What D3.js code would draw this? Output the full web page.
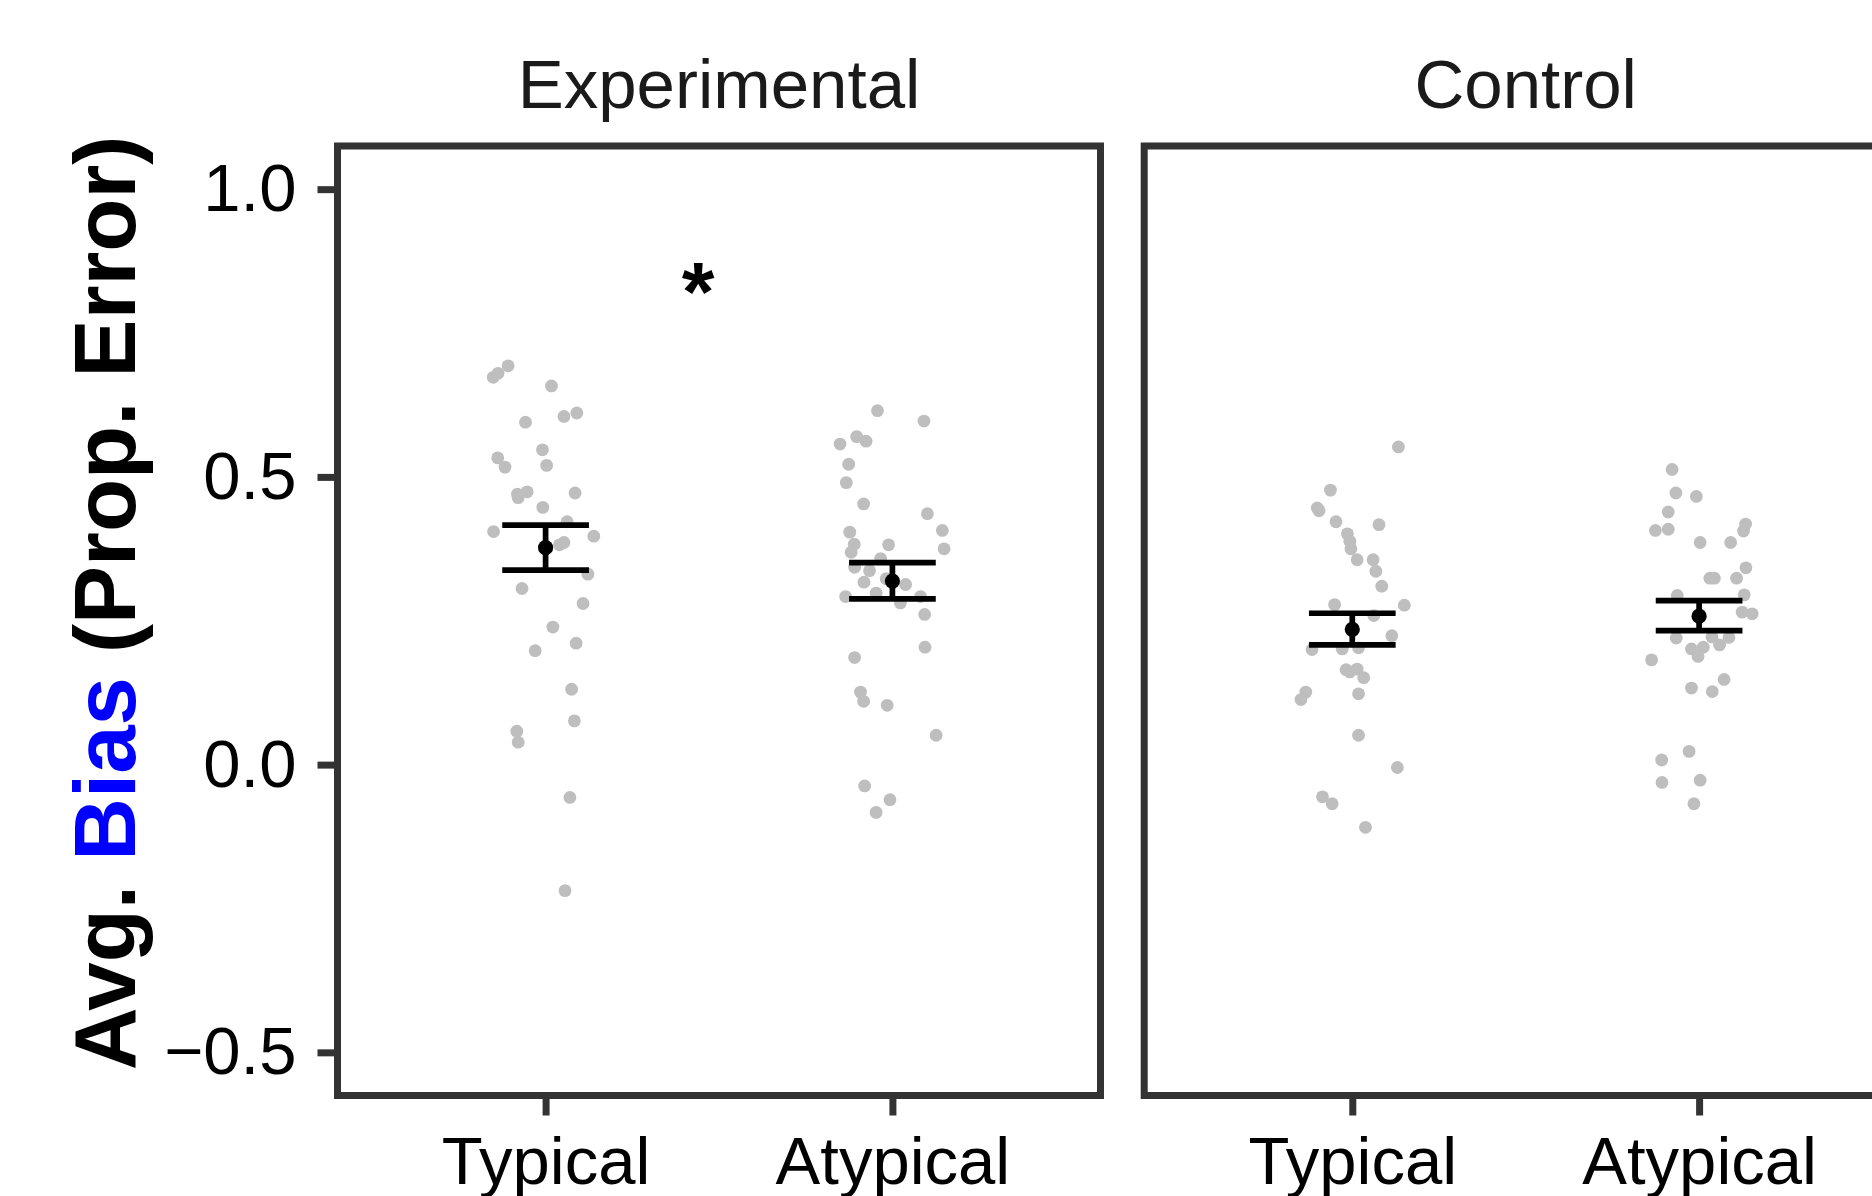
<!DOCTYPE html>
<html>
<head>
<meta charset="utf-8">
<script src="https://cdn.jsdelivr.net/npm/d3@7"></script>
<style>
  body { margin: 0; background: #fff; }
  svg { display: block; font-family: "Liberation Sans", Arial, Helvetica, sans-serif; }
</style>
</head>
<body>
<div id="chart"></div>
<script>
// facets and x categories
const groups = ["Experimental", "Control"];
const conditions = ["Typical", "Atypical"];

// individual participants: [avg bias, horizontal jitter in category units]
const expTypical = [
  [0.693, -0.108], [0.680, -0.137], [0.673, -0.151], [0.658, 0.017], [0.595, -0.058],
  [0.605, 0.053], [0.611, 0.090], [0.547, -0.009], [0.533, -0.138], [0.517, -0.117],
  [0.520, 0.003], [0.470, -0.081], [0.474, -0.053], [0.464, -0.079], [0.472, 0.085],
  [0.447, -0.008], [0.422, 0.062], [0.405, -0.150], [0.397, 0.139], [0.382, 0.040],
  [0.386, 0.053], [0.331, 0.122], [0.306, -0.068], [0.280, 0.108], [0.239, 0.021],
  [0.211, 0.088], [0.198, -0.030], [0.131, 0.075], [0.076, 0.083], [0.058, -0.083],
  [0.039, -0.079], [-0.057, 0.070], [-0.219, 0.056]
];
const expAtypical = [
  [0.615, -0.043], [0.597, 0.091], [0.570, -0.103], [0.562, -0.076], [0.557, -0.151],
  [0.522, -0.126], [0.490, -0.133], [0.453, -0.083], [0.436, 0.101], [0.407, 0.144],
  [0.404, -0.123], [0.375, 0.149], [0.382, -0.011], [0.383, -0.110], [0.369, -0.119],
  [0.358, -0.034], [0.343, -0.109], [0.337, -0.066], [0.317, -0.082], [0.323, -0.018],
  [0.313, 0.038], [0.298, -0.047], [0.292, -0.135], [0.292, 0.081], [0.281, 0.023],
  [0.261, 0.093], [0.204, 0.094], [0.186, -0.109], [0.126, -0.092], [0.110, -0.083],
  [0.103, -0.015], [0.051, 0.126], [-0.037, -0.080], [-0.061, -0.007], [-0.083, -0.047]
];
const ctrlTypical = [
  [0.552, 0.133], [0.477, -0.063], [0.446, -0.101], [0.441, -0.096], [0.422, -0.047],
  [0.417, 0.077], [0.401, -0.014], [0.388, -0.007], [0.375, -0.004], [0.356, 0.014],
  [0.356, 0.060], [0.336, 0.068], [0.310, 0.085], [0.278, -0.051], [0.277, 0.150],
  [0.259, 0.062], [0.224, 0.114], [0.200, -0.116], [0.201, -0.029], [0.203, 0.018],
  [0.165, -0.018], [0.161, -0.007], [0.166, 0.014], [0.151, 0.033], [0.123, 0.018],
  [0.126, -0.134], [0.113, -0.148], [0.051, 0.018], [-0.005, 0.130], [-0.056, -0.086],
  [-0.068, -0.058], [-0.109, 0.038]
];
const ctrlAtypical = [
  [0.513, -0.078], [0.472, -0.067], [0.466, -0.008], [0.439, -0.089], [0.407, -0.126],
  [0.409, -0.089], [0.418, 0.134], [0.406, 0.128], [0.386, 0.003], [0.386, 0.091],
  [0.342, 0.135], [0.324, 0.031], [0.324, 0.044], [0.324, 0.108], [0.294, -0.063],
  [0.295, 0.130], [0.265, 0.124], [0.262, 0.153], [0.220, -0.066], [0.222, 0.037],
  [0.221, 0.086], [0.201, -0.022], [0.204, 0.012], [0.208, 0.059], [0.188, -0.003],
  [0.182, -0.137], [0.148, 0.072], [0.133, -0.022], [0.127, 0.038], [0.023, -0.029],
  [0.008, -0.108], [-0.031, -0.107], [-0.027, 0.003], [-0.068, -0.015]
];
const participants = [[expTypical, expAtypical], [ctrlTypical, ctrlAtypical]];

// group means with error bars (per facet, per condition)
const meanValues = [[0.377, 0.319], [0.235, 0.258]];
const lowerBar = [[0.338, 0.288], [0.208, 0.233]];
const upperBar = [[0.416, 0.351], [0.263, 0.285]];

// y axis ticks
const yTicks = [-0.5, 0.0, 0.5, 1.0];

// significance marker in the Experimental facet (x in category units, 1 = Typical)
const starMark = { label: "*", pos: 1.44, value: 0.852 };

const W = 1872, H = 1196;
const panel = { top: 146, bottom: 1095.5, left: 337.5, width: 763, gap: 43.7 };

const svg = d3.select("#chart").append("svg")
  .attr("width", W)
  .attr("height", H);

const x = d3.scalePoint().domain(conditions).range([0, panel.width]).padding(0.6);
const step = x.step();
const y = d3.scaleLinear().domain([-0.575, 1.075]).range([panel.bottom, panel.top]);

const borderColor = "#333333";

groups.forEach((g, gi) => {
  const left = panel.left + gi * (panel.width + panel.gap);
  const p = svg.append("g").attr("transform", `translate(${left},0)`);

  // strip title
  svg.append("text")
    .attr("x", left + panel.width / 2)
    .attr("y", 108)
    .attr("text-anchor", "middle")
    .attr("font-size", 69)
    .attr("fill", "#1a1a1a")
    .text(g);

  // jittered participant points
  conditions.forEach((c, ci) => {
    p.append("g").selectAll("circle")
      .data(participants[gi][ci])
      .join("circle")
      .attr("cx", d => x(c) + d[1] * step)
      .attr("cy", d => y(d[0]))
      .attr("r", 6.4)
      .attr("fill", "#bebebe");
  });

  // error bars
  const eb = p.append("g").attr("stroke", "#000").attr("stroke-width", 5.7).attr("fill", "none");
  conditions.forEach((c, ci) => {
    const cx = x(c), hw = 0.125 * step;
    eb.append("line").attr("x1", cx).attr("x2", cx)
      .attr("y1", y(lowerBar[gi][ci])).attr("y2", y(upperBar[gi][ci]));
    eb.append("line").attr("x1", cx - hw).attr("x2", cx + hw)
      .attr("y1", y(upperBar[gi][ci])).attr("y2", y(upperBar[gi][ci]));
    eb.append("line").attr("x1", cx - hw).attr("x2", cx + hw)
      .attr("y1", y(lowerBar[gi][ci])).attr("y2", y(lowerBar[gi][ci]));
  });

  // means
  p.append("g").selectAll("circle")
    .data(conditions)
    .join("circle")
    .attr("cx", c => x(c))
    .attr("cy", (c, ci) => y(meanValues[gi][ci]))
    .attr("r", 7.6)
    .attr("fill", "#000");

  // x axis
  const xAxis = p.append("g")
    .attr("transform", `translate(0,${panel.bottom})`)
    .call(d3.axisBottom(x).tickSize(20).tickPadding(21));
  xAxis.select(".domain").remove();
  xAxis.selectAll(".tick line").attr("stroke", borderColor).attr("stroke-width", 7);
  xAxis.selectAll(".tick text")
    .attr("font-size", 67)
    .attr("font-family", "Liberation Sans, Arial, sans-serif")
    .attr("fill", "#000");

  if (gi === 0) {
    const yAxis = p.append("g")
      .call(d3.axisLeft(y).tickValues(yTicks).tickFormat(d3.format(".1f")).tickSize(20).tickPadding(21));
    yAxis.select(".domain").remove();
    yAxis.selectAll(".tick line").attr("stroke", borderColor).attr("stroke-width", 7);
    yAxis.selectAll(".tick text")
      .attr("font-size", 67)
      .attr("font-family", "Liberation Sans, Arial, sans-serif")
      .attr("fill", "#000");

    p.append("text")
      .attr("x", x(conditions[0]) + (starMark.pos - 1) * step)
      .attr("y", y(starMark.value))
      .attr("dy", "0.55em")
      .attr("text-anchor", "middle")
      .attr("font-size", 84)
      .attr("font-weight", "bold")
      .attr("fill", "#000")
      .text(starMark.label);
  }

  // panel border
  p.append("rect")
    .attr("x", 0).attr("y", panel.top)
    .attr("width", panel.width).attr("height", panel.bottom - panel.top)
    .attr("fill", "none")
    .attr("stroke", borderColor)
    .attr("stroke-width", 7);
});

// y axis title, "Bias" in blue
const yTitle = svg.append("text")
  .attr("transform", "translate(135,603) rotate(-90)")
  .attr("text-anchor", "middle")
  .attr("font-size", 87)
  .attr("font-weight", "bold")
  .attr("fill", "#000")
  .attr("xml:space", "preserve");
yTitle.append("tspan").text("Avg. ");
yTitle.append("tspan").attr("fill", "#0000ff").text("Bias");
yTitle.append("tspan").text(" (Prop. Error)");
</script>
</body>
</html>
